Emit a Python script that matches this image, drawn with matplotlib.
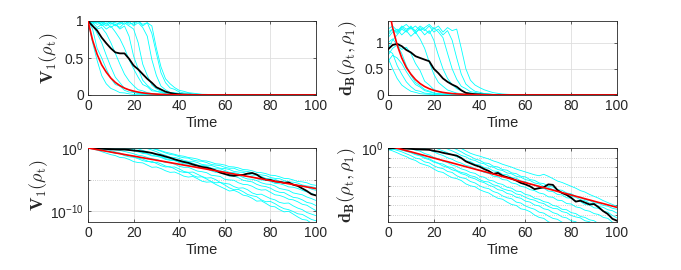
# Purity decay of 10 sample trajectories, their mean and the exponential bound.
# Top row: linear y, bottom row: same series on log y.
import numpy as np
import matplotlib
matplotlib.use("Agg")
import matplotlib.pyplot as plt
from matplotlib.ticker import FixedLocator, NullFormatter

plt.rcParams.update({
    "font.family": "Liberation Sans",
    "mathtext.fontset": "custom",
    "mathtext.rm": "Liberation Sans",
    "mathtext.it": "Liberation Sans:italic",
    "mathtext.bf": "Liberation Sans:bold",
})

# ---------- data (all series stored as log10 of the value, t = 0, 2, ..., 100) ----------
T = list(range(0, 101, 2))

# V1(rho_t): exponential bound, mean, sample runs
v1_bound = [0, -0.13, -0.26, -0.39, -0.51, -0.64, -0.77, -0.90, -1.03, -1.16, -1.28,
            -1.41, -1.54, -1.67, -1.80, -1.93, -2.05, -2.18, -2.31, -2.44, -2.57,
            -2.70, -2.82, -2.95, -3.08, -3.21, -3.34, -3.47, -3.60, -3.72, -3.85,
            -3.98, -4.11, -4.24, -4.36, -4.49, -4.62, -4.75, -4.88, -5.01, -5.14,
            -5.26, -5.39, -5.52, -5.65, -5.78, -5.91, -6.03, -6.16, -6.29, -6.42]
v1_mean = [0, -0.03, -0.06, -0.11, -0.155, -0.2, -0.24, -0.25, -0.25, -0.31, -0.40,
           -0.46, -0.55, -0.66, -0.78, -0.98, -1.13, -1.35, -1.55, -1.8, -2.0,
           -2.2, -2.35, -2.6, -2.8, -3.0, -3.1, -3.3, -3.55, -3.9, -4.1,
           -4.3, -4.4, -4.3, -4.25, -4.05, -3.95, -4.2, -4.7, -5.0, -5.05,
           -5.3, -5.35, -5.5, -5.45, -5.8, -6.0, -6.4, -6.8, -7.3, -7.5]
v1_run01 = [0, -0.15, -0.33, -0.58, -0.82, -1.05,
            -1.2, -1.5, -1.55, -1.8, -2.15,
            -2.3, -2.35, -2.7, -3.05, -3.0,
            -3.25, -3.6, -3.85, -3.8, -4.1,
            -4.45, -4.6, -4.5, -4.85, -5.25,
            -5.4, -5.35, -5.75, -6.1, -6.45,
            -6.8, -6.7, -7.0, -7.45, -7.6,
            -7.95, -8.4, -8.35, -8.75, -9.2,
            -9.3, -9.75, -10.1, -10.0, -10.45,
            -10.9, -11.3, -11.4, -11.9, -12.1]
v1_run02 = [0, -0.05, -0.2, -0.3, -0.45, -0.65,
            -0.85, -0.92, -1.2, -1.4, -1.45,
            -1.7, -2.0, -2.15, -2.1, -2.45,
            -2.8, -3.0, -2.95, -3.3, -3.7,
            -3.85, -3.9, -4.35, -4.6, -4.55,
            -4.9, -5.3, -5.5, -5.45, -5.85,
            -6.3, -6.6, -6.55, -6.9, -7.35,
            -7.55, -7.7, -8.2, -8.5, -8.45,
            -8.8, -9.25, -9.6, -9.75, -10.05,
            -10.4, -10.5, -10.9, -11.3, -11.5]
v1_run03 = [0, -0.02, -0.08, -0.15, -0.27, -0.42,
            -0.62, -0.78, -1.05, -1.15, -1.45,
            -1.6, -1.75, -2.05, -2.3, -2.25,
            -2.5, -2.85, -3.05, -3.0, -3.3,
            -3.7, -3.85, -3.8, -4.15, -4.5,
            -4.75, -4.7, -5.0, -5.45, -5.6,
            -5.7, -6.1, -6.35, -6.3, -6.6,
            -7.1, -7.35, -7.3, -7.65, -8.0,
            -8.2, -8.6, -8.75, -8.7, -9.15,
            -9.5, -9.75, -10.2, -10.45, -10.7]
v1_run04 = [0, -0.03, -0.05, -0.04, -0.08, -0.15,
            -0.25, -0.38, -0.55, -0.72, -0.9,
            -1.15, -1.25, -1.5, -1.7, -1.8,
            -2.05, -2.3, -2.35, -2.55, -2.9,
            -3.05, -3.05, -3.35, -3.65, -3.75,
            -3.9, -4.3, -4.4, -4.5, -4.95,
            -5.05, -5.1, -5.5, -5.75, -5.8,
            -6.05, -6.45, -6.65, -6.6, -7.0,
            -7.4, -7.5, -7.75, -8.1, -8.2,
            -8.5, -8.9, -9.05, -9.5, -9.9]
v1_run05 = [0, -0.01, -0.04, -0.02, -0.05, -0.03,
            -0.07, -0.12, -0.2, -0.32, -0.45,
            -0.62, -0.85, -0.95, -1.25, -1.3,
            -1.5, -1.8, -1.95, -2.0, -2.3,
            -2.5, -2.55, -2.75, -3.1, -3.2,
            -3.25, -3.6, -3.85, -3.85, -4.15,
            -4.45, -4.45, -4.7, -5.1, -5.25,
            -5.35, -5.75, -6.0, -6.1, -6.35,
            -6.75, -7.0, -7.05, -7.45, -7.8,
            -7.9, -8.2, -8.6, -8.75, -9.1]
v1_run06 = [0, -0.02, -0.0, -0.03, -0.01, -0.04,
            -0.02, -0.05, -0.03, -0.1, -0.28,
            -0.45, -0.7, -0.88, -1.12, -1.28,
            -1.4, -1.7, -1.85, -1.9, -2.15,
            -2.35, -2.4, -2.55, -2.85, -3.0,
            -3.0, -3.35, -3.55, -3.6, -3.8,
            -4.1, -4.25, -4.3, -4.65, -4.9,
            -4.95, -5.15, -5.5, -5.7, -5.75,
            -6.0, -6.4, -6.55, -6.7, -7.1,
            -7.25, -7.4, -7.75, -8.0, -8.3]
v1_run07 = [0, -0.0, -0.02, -0.01, -0.03, -0.01,
            -0.02, -0.04, -0.01, -0.03, -0.05,
            -0.15, -0.38, -0.58, -0.87, -1.08,
            -1.3, -1.55, -1.6, -1.75, -2.0,
            -2.15, -2.2, -2.4, -2.7, -2.75,
            -2.85, -3.15, -3.3, -3.3, -3.55,
            -3.85, -3.9, -4.05, -4.4, -4.5,
            -4.55, -4.85, -5.05, -5.1, -5.3,
            -5.6, -5.65, -5.85, -6.15, -6.2,
            -6.4, -6.7, -6.95, -7.15, -7.5]
v1_run08 = [0, -0.01, -0.0, -0.02, -0.0, -0.01,
            -0.03, -0.01, -0.02, -0.0, -0.03,
            -0.01, -0.04, -0.1, -0.32, -0.58,
            -0.92, -1.15, -1.45, -1.5, -1.65,
            -1.95, -2.1, -2.1, -2.3, -2.6,
            -2.7, -2.75, -3.0, -3.2, -3.25,
            -3.4, -3.7, -3.8, -3.85, -4.1,
            -4.3, -4.3, -4.5, -4.8, -4.9,
            -4.95, -5.25, -5.4, -5.45, -5.75,
            -5.9, -6.0, -6.2, -6.5, -6.7]
v1_run09 = [0, -0.0, -0.01, -0.0, -0.02, -0.0,
            -0.01, -0.02, -0.0, -0.01, -0.02,
            -0.0, -0.03, -0.01, -0.08, -0.25,
            -0.52, -0.78, -1.02, -1.12, -1.38,
            -1.55, -1.6, -1.9, -2.05, -2.1,
            -2.3, -2.6, -2.7, -2.8, -3.05,
            -3.2, -3.2, -3.5, -3.65, -3.7,
            -3.9, -4.2, -4.25, -4.35, -4.65,
            -4.8, -4.85, -5.15, -5.35, -5.4,
            -5.55, -5.85, -6.0, -6.1, -6.3]
v1_run10 = [0, -0.01, -0.0, -0.01, -0.0, -0.02,
            -0.0, -0.01, -0.0, -0.02, -0.01,
            -0.0, -0.02, -0.01, -0.03, -0.2,
            -0.42, -0.66, -0.82, -1.0, -1.2,
            -1.3, -1.5, -1.6, -1.75, -2.0,
            -2.05, -2.25, -2.5, -2.55, -2.7,
            -2.95, -3.0, -3.15, -3.4, -3.45,
            -3.6, -3.85, -3.9, -4.05, -4.3,
            -4.35, -4.55, -4.8, -4.85, -5.05,
            -5.3, -5.35, -5.5, -5.8, -5.9]
v1_runs = [v1_run01, v1_run02, v1_run03, v1_run04, v1_run05,
           v1_run06, v1_run07, v1_run08, v1_run09, v1_run10]

# dB(rho_t, rho_1): bound, mean, sample runs
db_bound = [0.24, 0.11, -0.02, -0.15, -0.28, -0.40, -0.53, -0.66, -0.79, -0.92, -1.05,
            -1.18, -1.31, -1.43, -1.56, -1.69, -1.82, -1.95, -2.08, -2.21, -2.34,
            -2.46, -2.59, -2.72, -2.85, -2.98, -3.11, -3.24, -3.37, -3.49, -3.62,
            -3.75, -3.88, -4.01, -4.14, -4.27, -4.40, -4.53, -4.66, -4.78, -4.91,
            -5.04, -5.17, -5.30, -5.43, -5.56, -5.69, -5.81, -5.94, -6.07, -6.20]
db_mean = [-0.06, -0.02, -0.01, -0.03, -0.065, -0.09, -0.13, -0.15, -0.17, -0.19, -0.30,
           -0.38, -0.5, -0.6, -0.7, -0.8, -1.05, -1.4, -1.6, -1.8, -1.95,
           -2.2, -2.4, -2.7, -2.6, -2.9, -3.05, -3.2, -3.4, -3.65, -3.8,
           -4.0, -4.3, -4.2, -4.1, -3.8, -3.85, -4.4, -4.7, -4.9, -5.2,
           -5.6, -5.5, -5.7, -5.9, -5.85, -6.2, -6.6, -6.9, -7.4, -7.6]
db_run01 = [-0.15, -0.3, -0.5, -0.72, -0.9, -1.15,
            -1.3, -1.6, -1.75, -1.9, -2.2,
            -2.45, -2.55, -2.85, -3.1, -3.2,
            -3.4, -3.75, -3.95, -4.05, -4.35,
            -4.55, -4.7, -5.0, -5.25, -5.35,
            -5.65, -5.9, -6.0, -6.35, -6.45,
            -6.65, -7.0, -7.25, -7.35, -7.7,
            -7.9, -8.05, -8.35, -8.6, -8.7,
            -9.05, -9.2, -9.5, -9.6, -9.95,
            -10.15, -10.3, -10.6, -10.85, -11.0]
db_run02 = [-0.07, -0.1, -0.25, -0.4, -0.6, -0.8,
            -1.05, -1.15, -1.45, -1.55, -1.85,
            -2.05, -2.15, -2.45, -2.55, -2.9,
            -3.1, -3.2, -3.5, -3.65, -3.95,
            -4.15, -4.25, -4.55, -4.7, -5.0,
            -5.2, -5.3, -5.65, -5.75, -6.05,
            -6.25, -6.4, -6.7, -6.8, -7.1,
            -7.35, -7.45, -7.75, -7.85, -8.2,
            -8.4, -8.5, -8.85, -8.95, -9.25,
            -9.45, -9.6, -9.9, -10.0, -10.3]
db_run03 = [0.0, 0.03, -0.02, -0.1, -0.25, -0.42,
            -0.62, -0.75, -0.98, -1.12, -1.38,
            -1.58, -1.68, -1.95, -2.05, -2.35,
            -2.55, -2.65, -2.9, -3.0, -3.3,
            -3.5, -3.55, -3.85, -3.95, -4.25,
            -4.4, -4.5, -4.8, -4.9, -5.15,
            -5.35, -5.45, -5.7, -5.8, -6.1,
            -6.3, -6.35, -6.65, -6.75, -7.05,
            -7.2, -7.3, -7.6, -7.7, -8.0,
            -8.15, -8.25, -8.55, -8.7, -9.0]
db_run04 = [-0.12, -0.05, -0.02, -0.06, -0.04, -0.1,
            -0.22, -0.33, -0.58, -0.72, -0.98,
            -1.12, -1.38, -1.52, -1.78, -1.92,
            -2.18, -2.32, -2.55, -2.65, -2.95,
            -3.05, -3.35, -3.45, -3.7, -3.8,
            -4.1, -4.2, -4.5, -4.55, -4.85,
            -4.95, -5.25, -5.35, -5.6, -5.7,
            -6.0, -6.1, -6.4, -6.45, -6.75,
            -6.85, -7.15, -7.25, -7.5, -7.6,
            -7.9, -8.0, -8.3, -8.35, -8.6]
db_run05 = [0.04, 0.08, 0.1, 0.06, 0.09, 0.05,
            0.08, 0.03, -0.05, -0.2, -0.4,
            -0.62, -0.78, -1.02, -1.18, -1.43,
            -1.58, -1.82, -1.92, -2.18, -2.32,
            -2.55, -2.65, -2.95, -3.0, -3.3,
            -3.35, -3.65, -3.75, -4.0, -4.1,
            -4.35, -4.45, -4.7, -4.8, -5.1,
            -5.15, -5.45, -5.5, -5.8, -5.85,
            -6.15, -6.25, -6.5, -6.6, -6.85,
            -6.95, -7.25, -7.35, -7.75, -8.0]
db_run06 = [0.08, 0.1, 0.07, 0.11, 0.09, 0.12,
            0.08, 0.1, 0.06, 0.09, 0.02,
            -0.12, -0.3, -0.5, -0.7, -0.92,
            -1.08, -1.33, -1.42, -1.7, -1.77,
            -2.05, -2.12, -2.4, -2.45, -2.75,
            -2.8, -3.1, -3.15, -3.45, -3.5,
            -3.8, -3.85, -4.15, -4.2, -4.5,
            -4.55, -4.85, -4.9, -5.2, -5.25,
            -5.55, -5.6, -5.9, -5.95, -6.25,
            -6.3, -6.6, -6.7, -7.05, -7.3]
db_run07 = [-0.05, 0.02, 0.06, 0.1, 0.08, 0.11,
            0.09, 0.12, 0.1, 0.07, 0.11,
            0.08, 0.04, -0.1, -0.3, -0.52,
            -0.78, -0.92, -1.2, -1.3, -1.55,
            -1.65, -1.9, -2.0, -2.25, -2.35,
            -2.6, -2.7, -2.95, -3.05, -3.3,
            -3.4, -3.65, -3.75, -4.0, -4.1,
            -4.35, -4.45, -4.7, -4.8, -5.05,
            -5.15, -5.4, -5.5, -5.75, -5.85,
            -6.1, -6.2, -6.45, -6.55, -6.8]
db_run08 = [0.06, 0.1, 0.08, 0.12, 0.1, 0.11,
            0.07, 0.11, 0.09, 0.12, 0.08,
            0.1, 0.06, 0.09, 0.02, -0.15,
            -0.4, -0.68, -0.88, -1.15, -1.28,
            -1.55, -1.62, -1.9, -1.98, -2.25,
            -2.32, -2.6, -2.68, -2.95, -3.02,
            -3.3, -3.38, -3.65, -3.72, -4.0,
            -4.08, -4.35, -4.42, -4.7, -4.78,
            -5.05, -5.12, -5.4, -5.48, -5.75,
            -5.78, -6.0, -6.08, -6.3, -6.4]
db_run09 = [0.1, 0.12, 0.09, 0.11, 0.13, 0.1,
            0.12, 0.09, 0.11, 0.13, 0.1,
            0.12, 0.08, 0.11, 0.09, 0.1,
            -0.05, -0.3, -0.55, -0.72, -0.85,
            -1.0, -1.15, -1.35, -1.5, -1.7,
            -1.85, -2.0, -2.2, -2.35, -2.5,
            -2.65, -2.8, -2.9, -2.75, -2.95,
            -3.2, -3.45, -3.6, -3.8, -4.0,
            -4.2, -4.45, -4.6, -4.85, -5.05,
            -5.25, -5.5, -5.7, -5.9, -6.1]
db_run10 = [-0.19, -0.12, -0.15, -0.22, -0.35, -0.5,
            -0.7, -0.82, -1.08, -1.22, -1.48,
            -1.62, -1.88, -2.02, -2.28, -2.42,
            -2.68, -2.82, -3.08, -3.22, -3.48,
            -3.62, -3.88, -4.05, -4.35, -4.45,
            -4.75, -4.85, -5.15, -5.25, -5.55,
            -5.65, -5.95, -6.05, -6.35, -6.45,
            -6.75, -6.9, -7.2, -7.3, -7.6,
            -7.7, -8.0, -8.1, -8.4, -8.5,
            -8.8, -8.9, -9.2, -9.3, -9.6]
db_runs = [db_run01, db_run02, db_run03, db_run04, db_run05,
           db_run06, db_run07, db_run08, db_run09, db_run10]

for s in v1_runs + db_runs + [v1_bound, v1_mean, db_bound, db_mean]:
    assert len(s) == len(T), len(s)

V1_LABEL = r"$\mathbf{V}_\mathbf{1}(\rho_\mathrm{t})$"
DB_LABEL = r"$\mathbf{d}_\mathbf{B}(\rho_\mathrm{t},\rho_1)$"

# ---------- figure ----------
W, H = 681, 270
fig = plt.figure(figsize=(W / 100, H / 100), dpi=100)

def box(l, t, r, b):
    return [l / W, 1 - b / H, (r - l) / W, (b - t) / H]

ax_tl = fig.add_axes(box(88, 21, 316, 95))
ax_tr = fig.add_axes(box(388, 21, 617, 95))
ax_bl = fig.add_axes(box(88, 148, 316, 222))
ax_br = fig.add_axes(box(388, 148, 617, 222))

def draw(ax, runs, mean, bound):
    for r in runs:
        ax.plot(T, 10 ** np.asarray(r), color=(0, 1, 1), lw=0.6, zorder=2)
    ax.plot(T, 10 ** np.asarray(mean), color="k", lw=1.3, zorder=3)
    ax.plot(T, 10 ** np.asarray(bound), color=(1, 0, 0), lw=1.2, zorder=4)

def style(ax):
    ax.set_xlim(0, 100)
    ax.set_xticks([0, 20, 40, 60, 80, 100])
    ax.grid(True, which="major", color="0.87", lw=0.6)
    ax.tick_params(which="both", direction="in", top=True, right=True,
                   length=2.5, width=0.5, colors="0.15", labelsize=10, pad=3)
    ax.tick_params(which="minor", length=1.5)
    for s in ax.spines.values():
        s.set_color("0.15"); s.set_linewidth(0.6)
    ax.set_xlabel("Time", fontsize=10.5, color="0.15", labelpad=2)

draw(ax_tl, v1_runs, v1_mean, v1_bound)
draw(ax_tr, db_runs, db_mean, db_bound)
draw(ax_bl, v1_runs, v1_mean, v1_bound)
draw(ax_br, db_runs, db_mean, db_bound)

for ax in (ax_tl, ax_tr, ax_bl, ax_br):
    style(ax)

ax_tl.set_ylim(0, 1)
ax_tl.set_yticks([0, 0.5, 1]); ax_tl.set_yticklabels(["0", "0.5", "1"])
ax_tr.set_ylim(0, 1.414)
ax_tr.set_yticks([0, 0.5, 1]); ax_tr.set_yticklabels(["0", "0.5", "1"])

ax_bl.set_yscale("log")
ax_bl.set_ylim(10 ** -11.7, 1)
ax_bl.yaxis.set_major_locator(FixedLocator([1e-10, 1]))
ax_bl.yaxis.set_minor_locator(FixedLocator([1e-5]))
ax_bl.yaxis.set_minor_formatter(NullFormatter())
ax_bl.grid(True, which="minor", axis="y", color="0.75", lw=0.6, ls=":")

ax_br.set_yscale("log")
ax_br.set_ylim(10 ** -7.73, 1)
ax_br.yaxis.set_major_locator(FixedLocator([1]))
ax_br.yaxis.set_minor_locator(FixedLocator([10.0 ** -k for k in range(1, 8)]))
ax_br.yaxis.set_minor_formatter(NullFormatter())
ax_br.grid(True, which="minor", axis="y", color="0.75", lw=0.6, ls=":")

for ax, lab, xc in ((ax_tl, V1_LABEL, -0.125), (ax_tr, DB_LABEL, -0.125),
                    (ax_bl, V1_LABEL, -0.165), (ax_br, DB_LABEL, -0.13)):
    ax.set_ylabel(lab, fontsize=13, math_fontfamily="cm", color="0.15")
    ax.yaxis.set_label_coords(xc, 0.5)

fig.savefig("out.png", dpi=100)
